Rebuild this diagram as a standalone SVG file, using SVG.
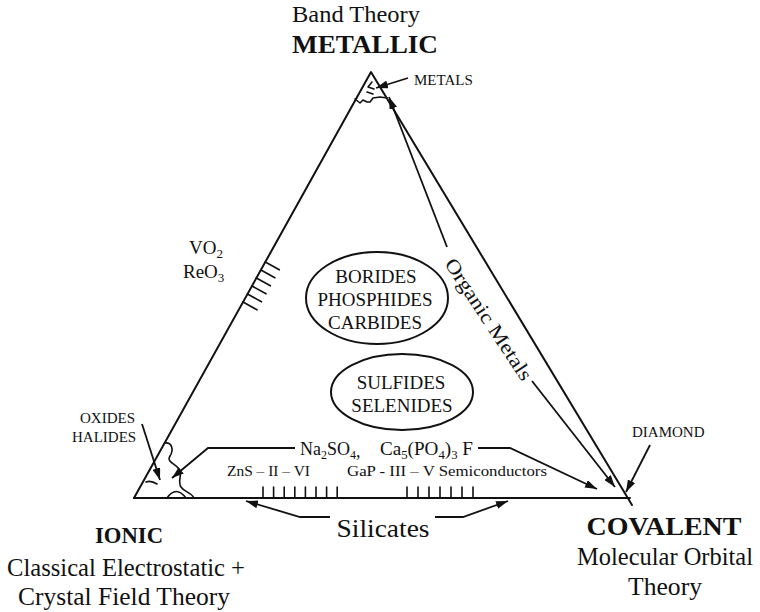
<svg xmlns="http://www.w3.org/2000/svg" width="760" height="612" viewBox="0 0 760 612">
<style>
text{font-family:"Liberation Serif","Times New Roman",serif;fill:#111}
.b{font-weight:bold}
.ln{fill:none;stroke:#111;stroke-width:2;stroke-linecap:round;stroke-linejoin:round}
.thin{fill:none;stroke:#111;stroke-width:1.6;stroke-linecap:round;stroke-linejoin:round}
.arr{fill:none;stroke:#111;stroke-width:1.8;marker-end:url(#ah)}
.m{text-anchor:middle}
</style>
<defs>
<marker id="ah" viewBox="0 0 12 8" refX="12" refY="4" markerWidth="12" markerHeight="8" orient="auto" markerUnits="userSpaceOnUse">
<path d="M0,0 L12,4 L0,8 z" fill="#111"/>
</marker>
</defs>
<rect width="760" height="612" fill="#fff"/>

<g id="triangle">
<path class="ln" d="M134,498 L371,72 L632,505"/>
<path class="ln" d="M134,498 L630,498"/>
</g>

<g id="metallic">
<text class="m" x="356" y="22" font-size="23" textLength="128" lengthAdjust="spacingAndGlyphs">Band Theory</text>
<text class="m b" x="365" y="53" font-size="25" textLength="146" lengthAdjust="spacingAndGlyphs">METALLIC</text>
<path class="thin" d="M355,99 L360,103 L363,100 L367,102 L370,102 L373,98 L380,97 L387,98"/>
<path class="thin" d="M372,82 L368,87 L374,89 M367,92 L373,94"/>
<text x="414" y="85" font-size="15">METALS</text>
</g>

<g id="ionic">
<text class="m b" x="129" y="543" font-size="23" textLength="68" lengthAdjust="spacingAndGlyphs">IONIC</text>
<text class="m" x="126" y="576" font-size="25" textLength="238" lengthAdjust="spacingAndGlyphs">Classical Electrostatic +</text>
<text class="m" x="124" y="605" font-size="25" textLength="212" lengthAdjust="spacingAndGlyphs">Crystal Field Theory</text>
<path class="thin" d="M165,443 C172,442 174,450 170,456 C166,462 176,464 179,469 C183,475 177,481 181,487 C184,492 191,492 194,498"/>
<path class="thin" d="M167,498 Q176,485 186,498"/>
<path class="thin" d="M146,482 Q151,480 157,484"/>
<text x="80" y="423" font-size="15">OXIDES</text>
<text x="72" y="442" font-size="15">HALIDES</text>
</g>

<g id="covalent">
<text class="m b" x="664" y="535" font-size="26" textLength="155" lengthAdjust="spacingAndGlyphs">COVALENT</text>
<text class="m" x="665" y="565" font-size="25" textLength="176" lengthAdjust="spacingAndGlyphs">Molecular Orbital</text>
<text class="m" x="665" y="595" font-size="25" textLength="74" lengthAdjust="spacingAndGlyphs">Theory</text>
<text x="632" y="437" font-size="15">DIAMOND</text>
</g>

<g id="vo2-reo3">
<text x="189" y="254" font-size="19">VO<tspan font-size="13" dy="4">2</tspan></text>
<text x="183" y="278" font-size="19">ReO<tspan font-size="13" dy="4">3</tspan></text>
<path class="thin" d="M265.3,262 l14,7.8 M260.9,270 l14,7.8 M256.4,278 l14,7.8 M252,286 l14,7.8 M247.5,294 l14,7.8 M243,302 l14,7.8"/>
</g>

<g id="borides">
<ellipse class="ln" cx="377" cy="298" rx="71" ry="46"/>
<text class="m" x="376" y="283" font-size="19">BORIDES</text>
<text class="m" x="375" y="306" font-size="19">PHOSPHIDES</text>
<text class="m" x="375" y="329" font-size="19">CARBIDES</text>
</g>

<g id="sulfides">
<ellipse class="ln" cx="402" cy="392" rx="71" ry="38"/>
<text class="m" x="401" y="389" font-size="19">SULFIDES</text>
<text class="m" x="402" y="412" font-size="19">SELENIDES</text>
</g>

<g id="organic-metals">
<text class="m" transform="translate(483,323) rotate(56.6)" font-size="20" textLength="142" lengthAdjust="spacingAndGlyphs">Organic Metals</text>
</g>

<g id="compounds">
<text x="300" y="455" font-size="18">Na<tspan font-size="12" dy="4">2</tspan><tspan dy="-4">SO</tspan><tspan font-size="12" dy="4">4</tspan><tspan dy="-2">,</tspan></text>
<text x="380" y="455" font-size="18" textLength="93" lengthAdjust="spacingAndGlyphs">Ca<tspan font-size="12" dy="4">5</tspan><tspan dy="-4">(PO</tspan><tspan font-size="12" dy="4">4</tspan><tspan dy="-4">)</tspan><tspan font-size="12" dy="4">3</tspan><tspan dy="-4"> F</tspan></text>
<text x="227" y="476" font-size="15" textLength="83" lengthAdjust="spacingAndGlyphs">ZnS – II – VI</text>
<text x="347" y="476" font-size="15" textLength="200" lengthAdjust="spacingAndGlyphs">GaP - III – V Semiconductors</text>
<path class="thin" d="M263,487V498 M273.6,487V498 M284.2,487V498 M294.8,487V498 M305.4,487V498 M316,487V498 M326.6,487V498 M337.2,487V498"/>
<path class="thin" d="M407,487V498 M418,487V498 M429,487V498 M440,487V498 M451,487V498 M462,487V498 M473,487V498"/>
</g>

<g id="silicates">
<text class="m" x="383" y="537" font-size="26" textLength="93" lengthAdjust="spacingAndGlyphs">Silicates</text>
</g>

<g id="connectors">
<path class="arr" d="M408,78 L376,88"/>
<path class="arr" d="M447,247 L389,97"/>
<path class="arr" d="M532,381 L615,487"/>
<path class="arr" d="M650,445 L626,492"/>
<path class="arr" d="M142,424 L160,480"/>
<path class="arr" d="M295,448 L208,448 L172,478"/>
<path class="arr" d="M478,448 L510,448 L597,489"/>
<path class="arr" d="M330,517 L300,517 L246,501"/>
<path class="arr" d="M435,517 L463,517 L508,501"/>
</g>
</svg>
